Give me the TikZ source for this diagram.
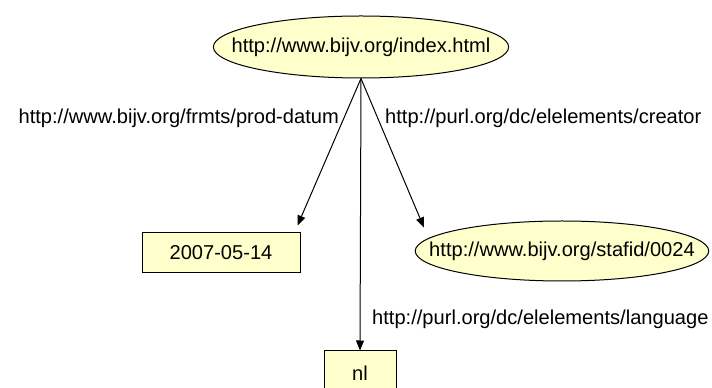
\documentclass[tikz,border=0pt]{standalone}
\usepackage{fontspec}
\setmainfont{Liberation Sans}
\usepackage{tikz}
\usetikzlibrary{arrows.meta, positioning, shapes.geometric}
\definecolor{nodefill}{RGB}{255,255,204}

\begin{document}
\begin{tikzpicture}[x=1pt, y=1pt, >={Triangle[length=10pt, width=8pt]},
    res/.style={ellipse, draw=black, fill=nodefill, line width=1pt, inner ysep=0pt},
    lit/.style={rectangle, draw=black, fill=nodefill, line width=1pt, inner sep=0pt},
    prop/.style={inner sep=0pt},
    font=\fontsize{20.1}{24}\selectfont]
    \useasboundingbox (0,0) rectangle (712,388);

    % resources and literals
    \node[res, inner xsep=-25pt, minimum height=62pt] (page) at (361,341) {http://www.bijv.org/index.html};
    \node[lit, minimum width=158pt, minimum height=40pt] (date) at (221,135) {2007-05-14};
    \node[res, inner xsep=-29pt, minimum height=60pt] (staff) at (562,137) {http://www.bijv.org/stafid/0024};
    \node[lit, minimum width=72pt, minimum height=44pt] (lang) at (360,15) {nl};

    % properties
    \draw[->, line width=1pt] (page.south) -- ([shift={(-3pt,7pt)}]date.north east);
    \draw[->, line width=1pt] (page.south) -- ([shift={(-34pt,2pt)}]staff.north west);
    \draw[->, line width=1pt] (page.south) -- (lang.north);

    \node[prop, anchor=base east] (datum) at (339,264) {http://www.bijv.org/frmts/prod-datum};
    \node[prop, anchor=base west] (creator) at (385,264) {http://purl.org/dc/elelements/creator};
    \node[prop, anchor=base west] (language) at (372,63) {http://purl.org/dc/elelements/language};
\end{tikzpicture}
\end{document}
